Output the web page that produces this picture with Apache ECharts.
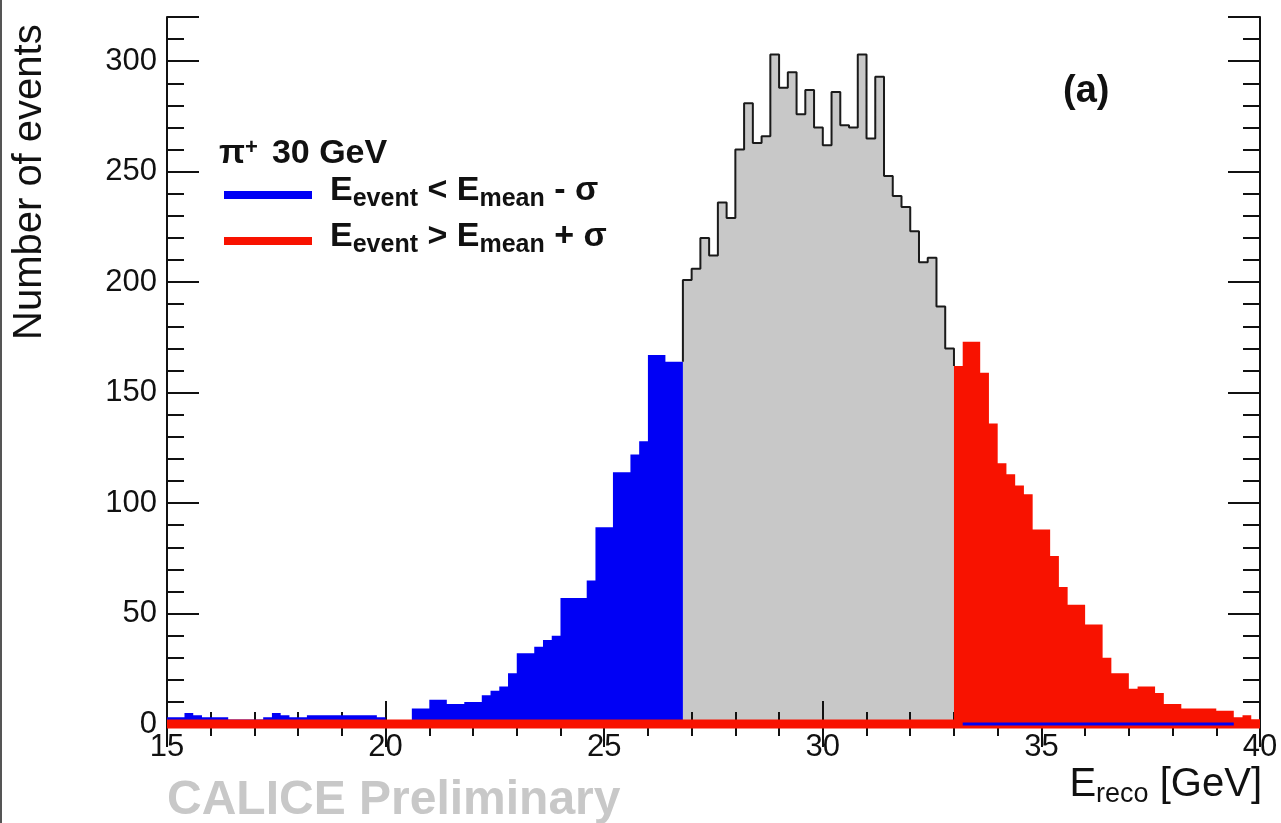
<!DOCTYPE html>
<html>
<head>
<meta charset="utf-8">
<script src="https://cdn.jsdelivr.net/npm/echarts@6/dist/echarts.min.js"></script>
<style>
html,body{margin:0;padding:0;background:#ffffff;}
#chart{width:1281px;height:823px;}
</style>
</head>
<body>
<div id="chart"></div>
<script>
// ---- data (0.2 GeV bins) ----
const X_MIN = 15, X_MAX = 40, X_STEP = 5;
const Y_MIN = 0, Y_MAX = 320, Y_STEP = 50;
const BIN_W = 0.2;
const BLUE_START = 15.0;   // E_event < E_mean - sigma
const GREY_START = 26.8;   // central part
const RED_START = 33.0;    // E_event > E_mean + sigma
const BLUE_ZERO_RANGE = [33.2, 39.4];

const blueCounts = [3,3,5,4,3,3,3,2,2,2, 2,3,5,4,3,3,4,4,4,4, 4,4,4,4,3,0,0,0,7,7,
                    11,11,9,9,10,10,13,15,17,23, 32,32,35,38,40,57,57,57,65,89,
                    89,114,114,122,128,167,167,164,164];
const greyCounts = [201,206,220,212,236,229,260,281,263,266,
                    303,288,295,276,287,270,262,286,271,270,
                    303,265,293,248,239,234,223,209,211,189,170];
const redCounts  = [162,173,173,159,136,118,113,108,104,88,
                    88,76,62,54,54,45,45,30,23,23,
                    16,17,17,14,9,9,7,7,7,7,
                    6,6,3,4,2];

const legendTitle = ['π', '+', '30 GeV'];
const legendBlue = ['E', 'event', ' < ', 'E', 'mean', ' - σ'];
const legendRed  = ['E', 'event', ' > ', 'E', 'mean', ' + σ'];
const yTitle = 'Number of events';
const xTitle = ['E', 'reco', ' [GeV]'];
const panelTag = '(a)';
const watermark = 'CALICE Preliminary';

// ---- helpers ----
function stepData(start, counts) {
  const pts = counts.map((c, i) => [+(start + i * BIN_W).toFixed(3), c]);
  pts.push([+(start + counts.length * BIN_W).toFixed(3), counts[counts.length - 1]]);
  return pts;
}
const outlineData = [[GREY_START, blueCounts[blueCounts.length - 1]]]
  .concat(greyCounts.map((c, i) => [+(GREY_START + i * BIN_W).toFixed(3), c]))
  .concat([[RED_START, redCounts[0]]]);

const FONT = "'Liberation Sans', Arial, Helvetica, sans-serif";
const BLUE = '#0000f5', RED = '#f81200', GREY = '#c8c8c8', INK = '#111111';

function fillSeries(name, start, counts, color, z) {
  return {
    name, type: 'line', step: 'end', data: stepData(start, counts),
    symbol: 'none', showSymbol: false, silent: true, z,
    lineStyle: { width: 0, opacity: 0 },
    areaStyle: { color, opacity: 1 },
    animation: false
  };
}

const axisCommon = {
  axisLine: { show: true, lineStyle: { color: INK, width: 2 } },
  splitLine: { show: false },
  z: 2
};

const chart = echarts.init(document.getElementById('chart'), null, { renderer: 'canvas' });

const option = {
  backgroundColor: '#ffffff',
  animation: false,
  grid: { left: 167, right: 21, top: 17, bottom: 99, containLabel: false },
  xAxis: [
    Object.assign({}, axisCommon, {
      type: 'value', position: 'bottom', min: X_MIN, max: X_MAX, interval: X_STEP,
      axisTick: { show: true, inside: true, length: 23, lineStyle: { color: INK, width: 2 } },
      minorTick: { show: true, splitNumber: 5, length: 12, lineStyle: { color: INK, width: 2 } },
      axisLabel: { show: true, color: INK, fontSize: 31, fontFamily: FONT, margin: 8 }
    }),
    Object.assign({}, axisCommon, {
      type: 'value', position: 'top', min: X_MIN, max: X_MAX, interval: X_STEP,
      axisTick: { show: true, inside: true, length: 23, lineStyle: { color: INK, width: 2 } },
      minorTick: { show: true, splitNumber: 5, length: 12, lineStyle: { color: INK, width: 2 } },
      axisLabel: { show: false }
    })
  ],
  yAxis: [
    Object.assign({}, axisCommon, {
      type: 'value', position: 'left', min: Y_MIN, max: Y_MAX, interval: Y_STEP,
      axisTick: { show: true, inside: true, length: 32, lineStyle: { color: INK, width: 2 } },
      minorTick: { show: true, splitNumber: 5, length: 17, lineStyle: { color: INK, width: 2 } },
      axisLabel: {
        show: true, color: INK, fontSize: 31, fontFamily: FONT, margin: 10, showMaxLabel: false,
        formatter: v => (v % Y_STEP === 0 ? String(v) : '')
      }
    }),
    Object.assign({}, axisCommon, {
      type: 'value', position: 'right', min: Y_MIN, max: Y_MAX, interval: Y_STEP,
      axisTick: { show: true, inside: true, length: 32, lineStyle: { color: INK, width: 2 } },
      minorTick: { show: true, splitNumber: 5, length: 17, lineStyle: { color: INK, width: 2 } },
      axisLabel: { show: false }
    })
  ],
  series: [
    fillSeries('central', GREY_START, greyCounts, GREY, 1),
    fillSeries('low', BLUE_START, blueCounts, BLUE, 3),
    fillSeries('high', RED_START, redCounts, RED, 3),
    {
      name: 'outline', type: 'line', step: 'end', data: outlineData,
      symbol: 'none', showSymbol: false, silent: true, z: 4,
      lineStyle: { color: '#1a1a1a', width: 2 }, animation: false
    },
    {
      name: 'highZero', type: 'line', data: [[X_MIN, 0], [X_MAX, 0]],
      symbol: 'none', showSymbol: false, silent: true, z: 5, clip: false,
      lineStyle: { color: RED, width: 9, cap: 'butt' }, animation: false
    },
    {
      name: 'lowZero', type: 'line', data: [[BLUE_ZERO_RANGE[0], 0], [BLUE_ZERO_RANGE[1], 0]],
      symbol: 'none', showSymbol: false, silent: true, z: 6, clip: false,
      lineStyle: { color: BLUE, width: 3, cap: 'butt' }, animation: false
    }
  ],
  graphic: [
    { type: 'rect', left: 0, top: 0, shape: { x: 0, y: 0, width: 2, height: 823 }, style: { fill: '#555555' }, z: 10 },
    {
      type: 'text', x: 30, y: 340, rotation: Math.PI / 2, z: 10,
      style: {
        text: yTitle, fill: INK, fontSize: 40, fontFamily: FONT,
        align: 'left', verticalAlign: 'middle', textAlign: 'left', textVerticalAlign: 'middle'
      }
    },
    {
      type: 'text', x: 1262, y: 768, z: 10,
      style: {
        text: '{m|' + xTitle[0] + '}{s|' + xTitle[1] + '}{m|' + xTitle[2] + '}',
        align: 'right', verticalAlign: 'top', textAlign: 'right', textVerticalAlign: 'top',
        rich: {
          m: { fontSize: 40, lineHeight: 40, padding: [0, 0, 7, 0], fontFamily: FONT, fill: INK, color: INK },
          s: { fontSize: 27, lineHeight: 27, verticalAlign: 'bottom', fontFamily: FONT, fill: INK, color: INK }
        }
      }
    },
    {
      type: 'text', x: 1063, y: 92, z: 10,
      style: {
        text: panelTag, fill: INK, fontSize: 38, fontWeight: 'bold', fontFamily: FONT,
        align: 'left', verticalAlign: 'middle', textAlign: 'left', textVerticalAlign: 'middle'
      }
    },
    {
      type: 'text', x: 167, y: 801, z: 10,
      style: {
        text: watermark, fill: '#c8c8c8', fontSize: 48, fontWeight: 'bold', fontFamily: FONT,
        align: 'left', verticalAlign: 'middle', textAlign: 'left', textVerticalAlign: 'middle'
      }
    },
    {
      type: 'text', x: 219, y: 137, z: 10,
      style: {
        text: '{m|' + legendTitle[0] + '}{p|' + legendTitle[1] + '}{g|' + legendTitle[2] + '}',
        align: 'left', verticalAlign: 'top', textAlign: 'left', textVerticalAlign: 'top',
        rich: {
          m: { fontSize: 34, lineHeight: 34, fontWeight: 'bold', fontFamily: FONT, fill: INK, color: INK },
          p: { fontSize: 22, lineHeight: 30, verticalAlign: 'top', fontWeight: 'bold', fontFamily: FONT, fill: INK, color: INK },
          g: { fontSize: 34, lineHeight: 34, fontWeight: 'bold', fontFamily: FONT, fill: INK, color: INK, padding: [0, 0, 0, 14] }
        }
      }
    },
    { type: 'line', z: 10, shape: { x1: 224, y1: 195, x2: 312, y2: 195 }, style: { stroke: BLUE, lineWidth: 8 } },
    { type: 'line', z: 10, shape: { x1: 224, y1: 241, x2: 312, y2: 241 }, style: { stroke: RED, lineWidth: 8 } },
    {
      type: 'text', x: 330, y: 178, z: 10,
      style: {
        text: '{m|' + legendBlue[0] + '}{s|' + legendBlue[1] + '}{m|' + legendBlue[2] + legendBlue[3] + '}{s|' + legendBlue[4] + '}{m|' + legendBlue[5] + '}',
        align: 'left', verticalAlign: 'top', textAlign: 'left', textVerticalAlign: 'top',
        rich: {
          m: { fontSize: 34, lineHeight: 34, padding: [0, 0, 9, 0], fontWeight: 'bold', fontFamily: FONT, fill: INK, color: INK },
          s: { fontSize: 25, lineHeight: 25, verticalAlign: 'bottom', fontWeight: 'bold', fontFamily: FONT, fill: INK, color: INK }
        }
      }
    },
    {
      type: 'text', x: 330, y: 224, z: 10,
      style: {
        text: '{m|' + legendRed[0] + '}{s|' + legendRed[1] + '}{m|' + legendRed[2] + legendRed[3] + '}{s|' + legendRed[4] + '}{m|' + legendRed[5] + '}',
        align: 'left', verticalAlign: 'top', textAlign: 'left', textVerticalAlign: 'top',
        rich: {
          m: { fontSize: 34, lineHeight: 34, padding: [0, 0, 9, 0], fontWeight: 'bold', fontFamily: FONT, fill: INK, color: INK },
          s: { fontSize: 25, lineHeight: 25, verticalAlign: 'bottom', fontWeight: 'bold', fontFamily: FONT, fill: INK, color: INK }
        }
      }
    }
  ]
};

chart.setOption(option);
</script>
</body>
</html>
